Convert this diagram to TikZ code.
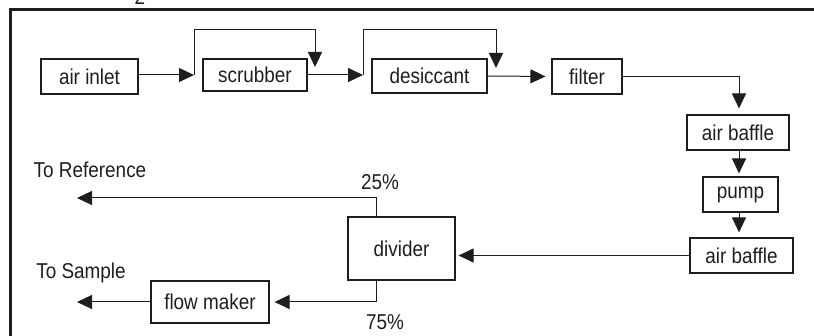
\documentclass[tikz,border=0pt]{standalone}
\usepackage{fontspec}
\setmainfont[FakeStretch=0.88]{Liberation Sans}
\usepackage{xcolor}
\usepackage{tikz}
\usetikzlibrary{positioning,arrows.meta,calc}
\definecolor{ctinta}{HTML}{1E1E1E}
\tikzset{
  caja/.style={rectangle, draw=ctinta, line width=1.1pt, inner sep=0pt,
    align=center, font=\fontsize{21.5}{24}\selectfont, text=ctinta},
  flecha/.style={-{Triangle[length=15pt,width=14pt]}, line width=1pt, draw=ctinta},
  etq/.style={font=\fontsize{21.5}{24}\selectfont, text=ctinta, inner sep=0pt},
  marco/.style={line width=2.2pt, draw=ctinta},
}

\begin{document}
\begin{tikzpicture}[x=1pt, y=-1pt]
  \useasboundingbox (0,0) rectangle (814,336);
  \clip (0,0) rectangle (814,336);
  % marco recortado
  \draw[marco] (10.5,345) -- (10.5,9.5) -- (825,9.5);
  \node[etq, anchor=base] (resto) at (140,4.5) {2};
  % fila superior
  \node[caja, minimum width=97pt, minimum height=35pt] (inlet) at (89.5,76.5) {air inlet};
  \node[caja, minimum width=104pt, minimum height=32pt] (scrub) at (255,75) {scrubber};
  \node[caja, minimum width=115pt, minimum height=34pt] (desic) at (429.5,76) {desiccant};
  \node[caja, minimum width=70pt, minimum height=35pt] (filt) at (587,76.5) {filter};
  % columna derecha
  \node[caja, minimum width=102pt, minimum height=35pt] (baffleA) at (738,132.5) {air baffle};
  \node[caja, minimum width=75pt, minimum height=35pt] (pump) at (740.5,194.5) {pump};
  \node[caja, minimum width=103pt, minimum height=35pt] (baffleB) at (741.5,255.5) {air baffle};
  % salida
  \node[caja, minimum width=107pt, minimum height=63pt] (divider) at (401.5,248.5) {divider};
  \node[caja, minimum width=118pt, minimum height=42pt] (flow) at (210,302) {flow maker};
  \node[etq] (pctA) at (380,182) {25\%};
  \node[etq] (pctB) at (385,322) {75\%};
  \node[etq] (lblRef) at (90,170) {To Reference};
  \node[etq] (lblSamp) at (81,273) {To Sample};
  \coordinate (inS) at (194,75);
  \coordinate (byS) at (315,67);
  \coordinate (inD) at (363,75);
  \coordinate (byD) at (496,68);
  \coordinate (toRef) at (77,198);
  \coordinate (toSamp) at (77,302);
  % conexiones
  \draw[flecha] (inlet.east |- inS) -- (inS);
  \draw[flecha] (inS) -- ++(0,-45) -| (byS);
  \draw[flecha] (scrub.east |- inD) -- (inD);
  \draw[flecha] (inD) -- ++(0,-45) -| (byD);
  \draw[flecha, shorten >=6pt] (desic.east) -- (filt.west);
  \draw[flecha, shorten >=6pt] (filt.east) -| ([xshift=1pt]baffleA.north);
  \draw[flecha, shorten >=3pt] ([xshift=1pt]baffleA.south) -- ([xshift=1pt]baffleA.south |- pump.north);
  \draw[flecha, shorten >=5pt] ([xshift=-1.5pt]pump.south) -- ([xshift=-1.5pt]pump.south |- baffleB.north);
  \draw[flecha, shorten >=3pt] (baffleB.west) -- (baffleB.west -| divider.east);
  \draw[flecha] ([xshift=-25.5pt]divider.north) |- (toRef);
  \draw[flecha, shorten >=5pt] ([xshift=-25.5pt]divider.south) |- (flow.east);
  \draw[flecha] (flow.west) -- (toSamp);
\end{tikzpicture}
\end{document}
